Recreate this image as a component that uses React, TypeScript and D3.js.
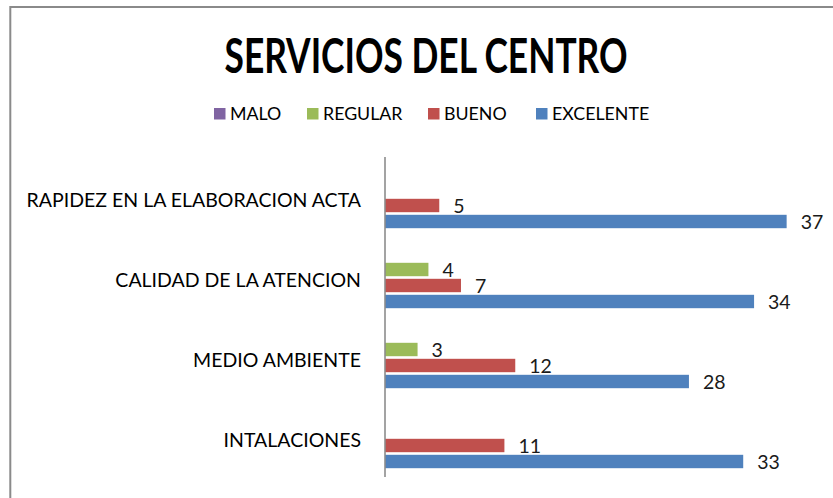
import React from "react";
import * as d3 from "d3";

const categories = [
  "RAPIDEZ EN LA ELABORACION ACTA",
  "CALIDAD DE LA ATENCION",
  "MEDIO AMBIENTE",
  "INTALACIONES",
];
const seriesNames = ["MALO", "REGULAR", "BUENO", "EXCELENTE"];
const malo = [0, 0, 0, 0];
const regular = [0, 4, 3, 0];
const bueno = [5, 7, 12, 11];
const excelente = [37, 34, 28, 33];
const title = "SERVICIOS DEL CENTRO";

const seriesValues = [malo, regular, bueno, excelente];
const colors = ["#8064A2", "#9BBB59", "#C0504D", "#4F81BD"];
const legendX = [214, 307, 428, 536];

const W = 833;
const H = 498;
const FONT = "Lato, Carlito, Calibri, sans-serif";

export default function App() {
  const x = d3.scaleLinear().domain([0, 40]).range([385, 819.2]);
  const y0 = d3
    .scaleBand<string>()
    .domain(categories)
    .range([157, 477])
    .paddingInner(0.2)
    .paddingOuter(0.1);
  const y1 = d3
    .scaleBand<string>()
    .domain(seriesNames)
    .range([0, y0.bandwidth()]);

  return (
    <svg
      width={W}
      height={H}
      style={{ position: "absolute", left: 0, top: 0, background: "#fff" }}
      fontFamily={FONT}
    >
      <rect x={0} y={0} width={W} height={H} fill="#fff" />
      {/* chart frame */}
      <rect
        x={10.3}
        y={7}
        width={W + 20}
        height={H + 20}
        fill="none"
        stroke="#8a8a8a"
        strokeWidth={2}
      />
      {/* title */}
      <text
        x={426}
        y={72.5}
        textAnchor="middle"
        fontSize={47}
        fontWeight="bold"
        fill="#000"
        textLength={403}
        lengthAdjust="spacingAndGlyphs"
      >
        {title}
      </text>
      {/* legend */}
      {seriesNames.map((s, i) => (
        <g key={s}>
          <rect x={legendX[i]} y={108} width={11.5} height={11.5} fill={colors[i]} />
          <text x={legendX[i] + 16} y={120} fontSize={17.8} fill="#000">
            {s}
          </text>
        </g>
      ))}
      {/* bars */}
      {categories.map((c, ci) => (
        <g key={c}>
          {seriesNames.map((s, si) => {
            const v = seriesValues[si][ci];
            if (!v) return null;
            const by = (y0(c) as number) + (y1(s) as number);
            const bh = y1.bandwidth();
            return (
              <g key={s}>
                <rect
                  x={x(0)}
                  y={by + 1.8}
                  width={x(v) - x(0)}
                  height={bh - 2.6}
                  fill={colors[si]}
                />
                <text
                  x={x(v) + 14}
                  y={by + bh / 2 + 8.2}
                  fontSize={19.5}
                  fill="#1a1a1a"
                >
                  {v}
                </text>
              </g>
            );
          })}
        </g>
      ))}
      {/* category axis */}
      <line x1={385} x2={385} y1={157} y2={477} stroke="#8c8c8c" strokeWidth={1.6} />
      {categories.map((c) => (
        <text
          key={c}
          x={361}
          y={(y0(c) as number) - 8 + 40 + 9.7}
          textAnchor="end"
          fontSize={19.5}
          fill="#000"
        >
          {c}
        </text>
      ))}
    </svg>
  );
}
